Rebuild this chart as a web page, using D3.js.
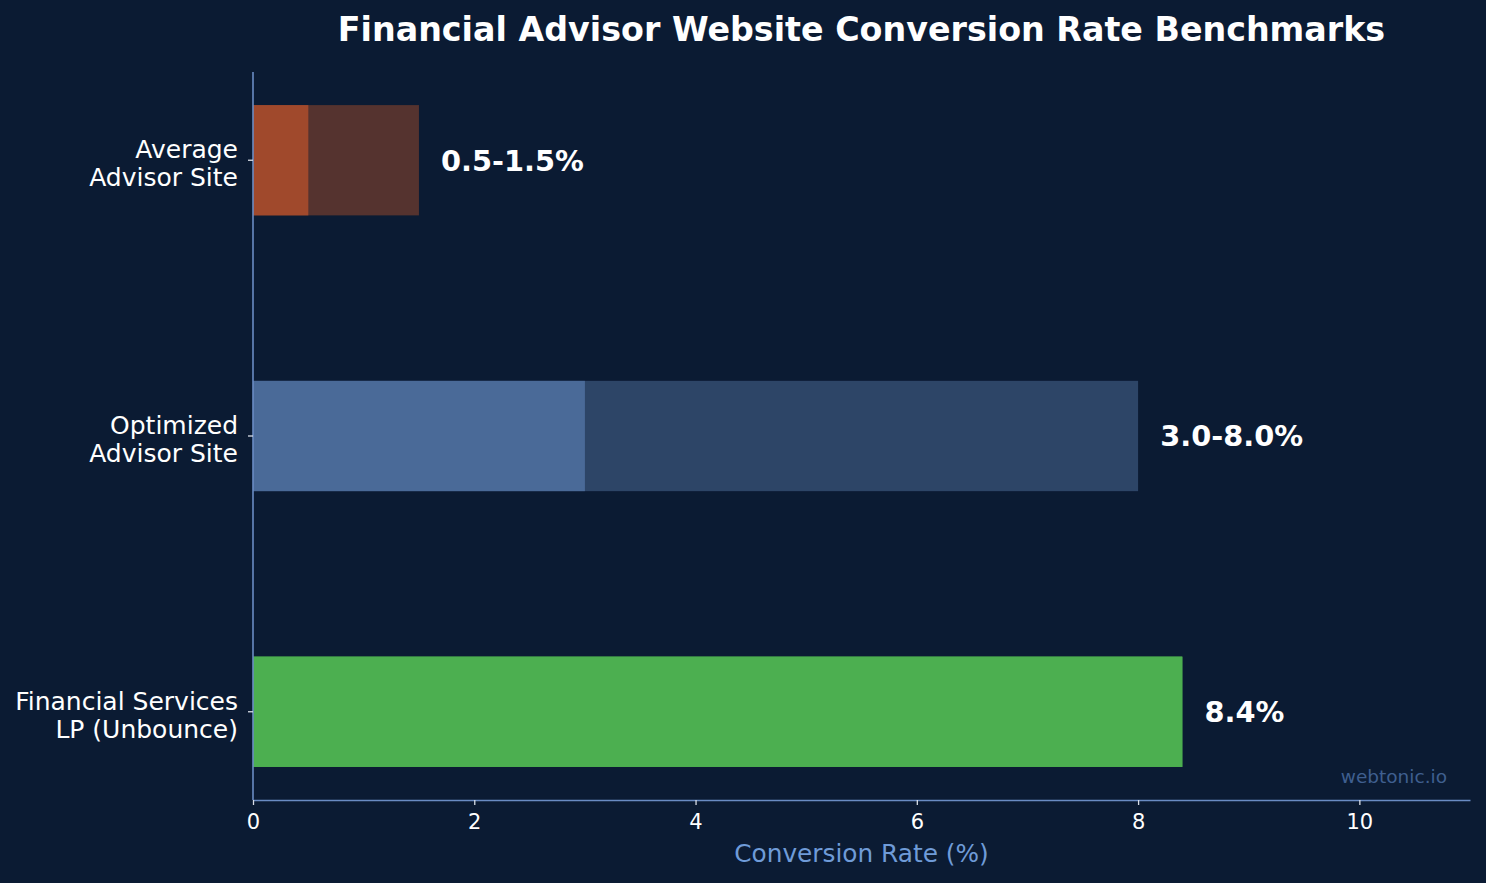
<!DOCTYPE html>
<html>
<head>
<meta charset="utf-8">
<script src="https://cdn.jsdelivr.net/npm/d3@7"></script>
<style>
  html, body { margin: 0; padding: 0; background: #0b1b33; }
  svg { display: block; font-family: "DejaVu Sans", sans-serif; }
</style>
</head>
<body>
<svg id="chart"></svg>
<script>
// benchmark data (top to bottom)
const categories = ["Average\nAdvisor Site", "Optimized\nAdvisor Site", "Financial Services\nLP (Unbounce)"];
const rangeLow = [0.5, 3.0, 8.4];
const rangeHigh = [1.5, 8.0, 8.4];
const valueLabels = ["0.5-1.5%", "3.0-8.0%", "8.4%"];
const xTicks = [0, 2, 4, 6, 8, 10];

const lowColors = ["#a0492c", "#4a6a98", "#4caf50"];
const highColors = ["#55332f", "#2d4567", "#4caf50"];

const W = 1486, H = 883;
const margin = {top: 72, right: 16, bottom: 83, left: 253};
const width = W - margin.left - margin.right,
      height = H - margin.top - margin.bottom;

const svg = d3.select("#chart").attr("width", W).attr("height", H);

svg.append("rect").attr("width", W).attr("height", H).attr("fill", "#0b1b33");

const x = d3.scaleLinear().domain([0, 11]).range([0, width]);

// matplotlib-like positions: index 0 at bottom, bar height 0.4, 5% margins
const y = d3.scaleLinear().domain([2.32, -0.32]).range([0, height]);
const barH = y(0) - y(0.4);
const pos = d => categories.length - 1 - categories.indexOf(d);

const g = svg.append("g").attr("transform", `translate(${margin.left},${margin.top})`);

// bars: full range (dark) then lower part (bright)
g.selectAll("rect.high")
  .data(categories)
  .enter().append("rect")
    .attr("class", "high")
    .attr("x", x(0))
    .attr("y", d => y(pos(d) + 0.2))
    .attr("width", (d, i) => x(rangeHigh[i]) - x(0))
    .attr("height", barH)
    .attr("fill", (d, i) => highColors[i]);

g.selectAll("rect.low")
  .data(categories)
  .enter().append("rect")
    .attr("class", "low")
    .attr("x", x(0))
    .attr("y", d => y(pos(d) + 0.2))
    .attr("width", (d, i) => x(rangeLow[i]) - x(0))
    .attr("height", barH)
    .attr("fill", (d, i) => lowColors[i]);

// value labels
g.selectAll("text.val")
  .data(categories)
  .enter().append("text")
    .attr("class", "val")
    .attr("x", (d, i) => x(rangeHigh[i] + 0.2))
    .attr("y", d => y(pos(d)))
    .attr("dy", "0.36em")
    .attr("fill", "#ffffff")
    .attr("font-weight", "bold")
    .style("font-size", "28.8px")
    .text((d, i) => valueLabels[i]);

// x axis
const xAxis = g.append("g")
  .attr("transform", `translate(0,${height})`)
  .call(d3.axisBottom(x).tickValues(xTicks).tickSize(5).tickSizeOuter(0).tickPadding(9).tickFormat(d3.format("d")));
xAxis.attr("font-family", null);
xAxis.select(".domain").attr("stroke", "#6a8cc4").attr("stroke-width", 1.6);
xAxis.selectAll(".tick line").attr("stroke", "#d8dde6").attr("stroke-width", 1.3);
xAxis.selectAll(".tick text").attr("fill", "#ffffff").style("font-size", "21px");

// y axis
const yAxis = g.append("g");
yAxis.append("line")
  .attr("x1", 0).attr("x2", 0).attr("y1", 0).attr("y2", height)
  .attr("stroke", "#6a8cc4").attr("stroke-width", 1.6);

const yTick = yAxis.selectAll("g.ytick")
  .data(categories)
  .enter().append("g")
    .attr("class", "ytick")
    .attr("transform", d => `translate(0,${y(pos(d))})`);

yTick.append("line")
  .attr("x1", -5).attr("x2", 0)
  .attr("stroke", "#d8dde6").attr("stroke-width", 1.3);

yTick.append("text")
  .attr("text-anchor", "end")
  .attr("fill", "#ffffff")
  .style("font-size", "25px")
  .each(function(d) {
    const lines = d.split("\n");
    const t = d3.select(this);
    lines.forEach((ln, k) => {
      t.append("tspan")
        .attr("x", -15)
        .attr("y", (k - (lines.length - 1) / 2) * 28 + 3)
        .attr("dy", "0.36em")
        .text(ln);
    });
  });

// axis label
svg.append("text")
  .attr("x", margin.left + width / 2)
  .attr("y", 862)
  .attr("text-anchor", "middle")
  .attr("fill", "#6f9bd8")
  .style("font-size", "24.8px")
  .text("Conversion Rate (%)");

// title
svg.append("text")
  .attr("x", margin.left + width / 2)
  .attr("y", 41)
  .attr("text-anchor", "middle")
  .attr("fill", "#ffffff")
  .attr("font-weight", "bold")
  .style("font-size", "33.3px")
  .text("Financial Advisor Website Conversion Rate Benchmarks");

// watermark
svg.append("text")
  .attr("x", 1447)
  .attr("y", 783)
  .attr("text-anchor", "end")
  .attr("fill", "#3f5f8f")
  .style("font-size", "18.5px")
  .text("webtonic.io");
</script>
</body>
</html>
